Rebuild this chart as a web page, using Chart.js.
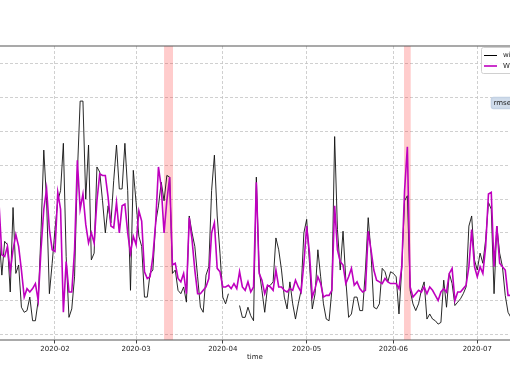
<!DOCTYPE html>
<html><head><meta charset="utf-8">
<script src="https://cdn.jsdelivr.net/npm/chart.js@4"></script>
<style>html,body{margin:0;padding:0;background:#fff;overflow:hidden}</style>
</head><body><canvas id="c" width="510" height="382"></canvas>
<script>
// day-of-year 2020 (0 = Jan 1) of the first value
const firstDay = 11;
const observed = [
 5.9, 3.5, 5.5, 5.3, 2.5, 7.5, 3.6, 4.1, 1.6, 1.3,
 1.4, 2.2, 0.8, 0.8, 2.0, 6.0, 10.9, 7.9, 2.4, 4.2,
 6.2, 7.9, 8.5, 11.3, 4.6, 1.0, 1.5, 3.4, 9.5, 13.8,
 13.8, 8.0, 11.2, 4.4, 4.8, 9.9, 9.6, 7.9, 6.0, 7.6,
 6.6, 9.1, 11.2, 8.6, 8.6, 11.3, 8.5, 2.6, 9.7, 7.8,
 5.8, 5.2, 2.2, 2.2, 3.6, 3.8, 6.6, 7.6, 9.0, 7.9,
 9.4, 9.3, 3.6, 3.8, 2.6, 2.4, 2.8, 1.9, 7.0, 6.0,
 5.2, 3.4, 1.6, 1.3, 3.5, 4.0, 8.5, 10.6, 7.0, 4.8,
 2.2, 1.8, 2.4, null, null, null, 1.7, 1.0, 1.0, 1.6,
 1.1, 0.8, 9.3, 3.8, 2.6, 1.3, 2.8, 2.9, 3.1, 5.7,
 5.0, 3.8, 2.2, 1.5, 3.1, 1.8, 0.9, 1.8, 2.6, 6.0,
 6.8, 4.2, 1.5, 2.4, 5.0, 3.4, 1.8, 0.9, 0.8, 2.6,
 11.7, 6.2, 3.8, 6.1, 3.2, 1.0, 1.2, 2.2, 2.2, 1.4,
 1.4, 3.8, 6.9, 4.8, 1.6, 1.5, 1.8, 3.9, 3.7, 3.1,
 3.7, 3.6, 3.4, 1.2, 3.9, 7.9, 8.2, 2.6, 1.8, 1.4,
 1.8, 2.6, 3.1, 0.9, 1.2, 0.9, 0.8, 0.6, 0.7, 3.2,
 1.6, 3.6, 3.0, 1.7, 1.9, 2.1, 2.4, 2.8, 6.4, 7.0,
 4.4, 3.8, 4.8, 4.2, 5.6, 7.8, 7.4, 2.4, 6.4, 4.8,
 4.0, 2.3, 1.3, 1.0, 0.8
];
const modelled = [
 7.7, 4.7, 4.6, 5.2, 3.7, 5.0, 5.9, 5.2, 3.8, 2.2,
 2.7, 2.5, 2.7, 3.0, 2.0, 5.0, 7.4, 8.6, 6.2, 5.0,
 4.9, 8.4, 7.4, 1.3, 4.3, 2.5, 2.5, 5.0, 10.3, 7.4,
 8.3, 6.5, 5.4, 6.0, 5.4, 7.9, 9.5, 9.4, 9.4, 8.1,
 6.4, 6.3, 7.8, 6.0, 7.6, 7.7, 6.0, 4.8, 5.8, 5.3,
 7.3, 6.7, 3.7, 3.3, 3.4, 4.6, 6.6, 9.9, 8.7, 6.0,
 7.9, 9.3, 4.1, 4.2, 3.3, 3.1, 3.6, 2.4, 6.9, 5.6,
 3.8, 2.4, 2.4, 2.6, 2.8, 3.3, 6.0, 6.6, 3.9, 3.7,
 2.8, 2.8, 2.9, 2.7, 3.0, 2.7, 3.7, 2.8, 2.6, 3.1,
 2.5, 2.8, 9.0, 3.6, 3.2, 2.4, 2.9, 2.8, 2.6, 3.8,
 2.8, 2.8, 2.6, 2.5, 2.7, 2.6, 3.2, 2.8, 2.5, 4.2,
 6.4, 4.8, 2.2, 2.7, 3.4, 3.0, 2.2, 2.3, 2.3, 2.6,
 7.6, 5.0, 4.3, 4.1, 3.0, 3.4, 3.9, 2.9, 3.1, 2.7,
 2.5, 2.6, 6.1, 5.0, 3.8, 3.2, 3.1, 3.0, 3.3, 3.1,
 3.0, 3.0, 3.0, 2.7, 4.0, 8.5, 11.1, 2.8, 2.2, 2.4,
 2.6, 2.5, 2.8, 2.4, 2.8, 2.6, 2.3, 2.0, 2.5, 2.7,
 2.5, 3.6, 3.9, 2.0, 2.5, 2.5, 2.7, 2.9, 4.0, 6.2,
 4.0, 3.4, 4.0, 3.6, 5.2, 8.3, 8.4, 4.0, 6.4, 4.2,
 4.0, 3.8, 2.3, 2.3, 2.3
];
const monthTickDays = [31, 60, 91, 121, 152, 182];
const monthTickLabels = ['2020-02', '2020-03', '2020-04', '2020-05', '2020-06', '2020-07'];
const yTickValues = [0, 2, 4, 6, 8, 10, 12, 14, 16];
const highlightSpans = [[70.0, 73.2], [155.8, 158.2]];
const seriesNames = ['wind speed (obs)', 'WRF wind speed'];
const rmseText = 'rmse = 1.85';
const xLabel = 'time';

const toPts = arr => arr.map((v, i) => ({x: firstDay + i, y: v}));
const FONT = 'DejaVu Sans';

const spanPlugin = {
  id: 'spans',
  beforeDatasetsDraw(chart) {
    const {ctx, chartArea: a, scales: {x}} = chart;
    ctx.save();
    ctx.fillStyle = 'rgba(255,0,0,0.2)';
    highlightSpans.forEach(([s, e]) => {
      const x0 = x.getPixelForValue(s), x1 = x.getPixelForValue(e);
      ctx.fillRect(x0, a.top, x1 - x0, a.bottom - a.top);
    });
    ctx.restore();
  }
};

const framePlugin = {
  id: 'frame',
  afterDraw(chart) {
    const {ctx, chartArea: a} = chart;
    ctx.save();
    ctx.strokeStyle = '#555';
    ctx.lineWidth = 1.2;
    ctx.beginPath();
    ctx.moveTo(0, a.top); ctx.lineTo(chart.width, a.top);
    ctx.moveTo(0, a.bottom); ctx.lineTo(chart.width, a.bottom);
    ctx.stroke();
    // legend box (cut at the right edge)
    ctx.fillStyle = 'rgba(255,255,255,0.85)';
    ctx.strokeStyle = '#d0d0d0';
    ctx.lineWidth = 1;
    ctx.beginPath();
    ctx.roundRect(481.5, 47.5, 80, 26, 2);
    ctx.fill(); ctx.stroke();
    ctx.lineWidth = 1;
    ctx.strokeStyle = '#000';
    ctx.beginPath(); ctx.moveTo(484, 55.5); ctx.lineTo(497, 55.5); ctx.stroke();
    ctx.lineWidth = 1.6;
    ctx.strokeStyle = '#bf00bf';
    ctx.beginPath(); ctx.moveTo(484, 66); ctx.lineTo(497, 66); ctx.stroke();
    ctx.fillStyle = '#222';
    ctx.font = '7px "' + FONT + '"';
    ctx.textBaseline = 'middle';
    ctx.textAlign = 'left';
    ctx.fillText(seriesNames[0], 503, 55.5);
    ctx.fillText(seriesNames[1], 503, 66);
    // rmse annotation box
    ctx.fillStyle = '#d0dceb';
    ctx.strokeStyle = '#c4d2e4';
    ctx.beginPath();
    ctx.roundRect(491.5, 97.5, 60, 11, 2);
    ctx.fill(); ctx.stroke();
    ctx.fillStyle = '#222';
    ctx.fillText(rmseText, 493.5, 103);
    ctx.restore();
  }
};

new Chart(document.getElementById('c'), {
  type: 'line',
  data: {
    datasets: [
      {label: seriesNames[1], data: toPts(modelled), borderColor: '#bf00bf', borderWidth: 1.6,
       pointRadius: 0, tension: 0, order: 0},
      {label: seriesNames[0], data: toPts(observed), borderColor: '#111', borderWidth: 0.9,
       pointRadius: 0, tension: 0, spanGaps: false, order: 1}
    ]
  },
  options: {
    responsive: false,
    animation: false,
    layout: {padding: {top: 46, left: 0, right: 0, bottom: 0}},
    plugins: {legend: {display: false}, tooltip: {enabled: false}},
    scales: {
      x: {
        type: 'linear', min: 11.34, max: 193.7,
        afterBuildTicks: s => { s.ticks = monthTickDays.map(v => ({value: v})); },
        afterFit: s => { s.height = 42; },
        ticks: {autoSkip: false, maxRotation: 0, minRotation: 0, padding: 1,
                font: {family: FONT, size: 7}, color: '#222',
                callback: (v, i) => monthTickLabels[i]},
        grid: {color: '#c4c4c4', lineWidth: 0.8, tickLength: 3.5, tickColor: '#444', tickWidth: 1, tickBorderDash: []},
        border: {display: false, dash: [3, 2]},
        title: {display: true, text: xLabel, font: {family: FONT, size: 7}, color: '#222',
                padding: {top: 0, bottom: 21}}
      },
      y: {
        min: -0.34, max: 17.06,
        afterBuildTicks: s => { s.ticks = yTickValues.map(v => ({value: v})); },
        ticks: {display: false},
        grid: {color: '#c4c4c4', lineWidth: 0.8, drawTicks: false},
        border: {display: false, dash: [3, 2]}
      }
    }
  },
  plugins: [spanPlugin, framePlugin]
});
</script></body></html>
